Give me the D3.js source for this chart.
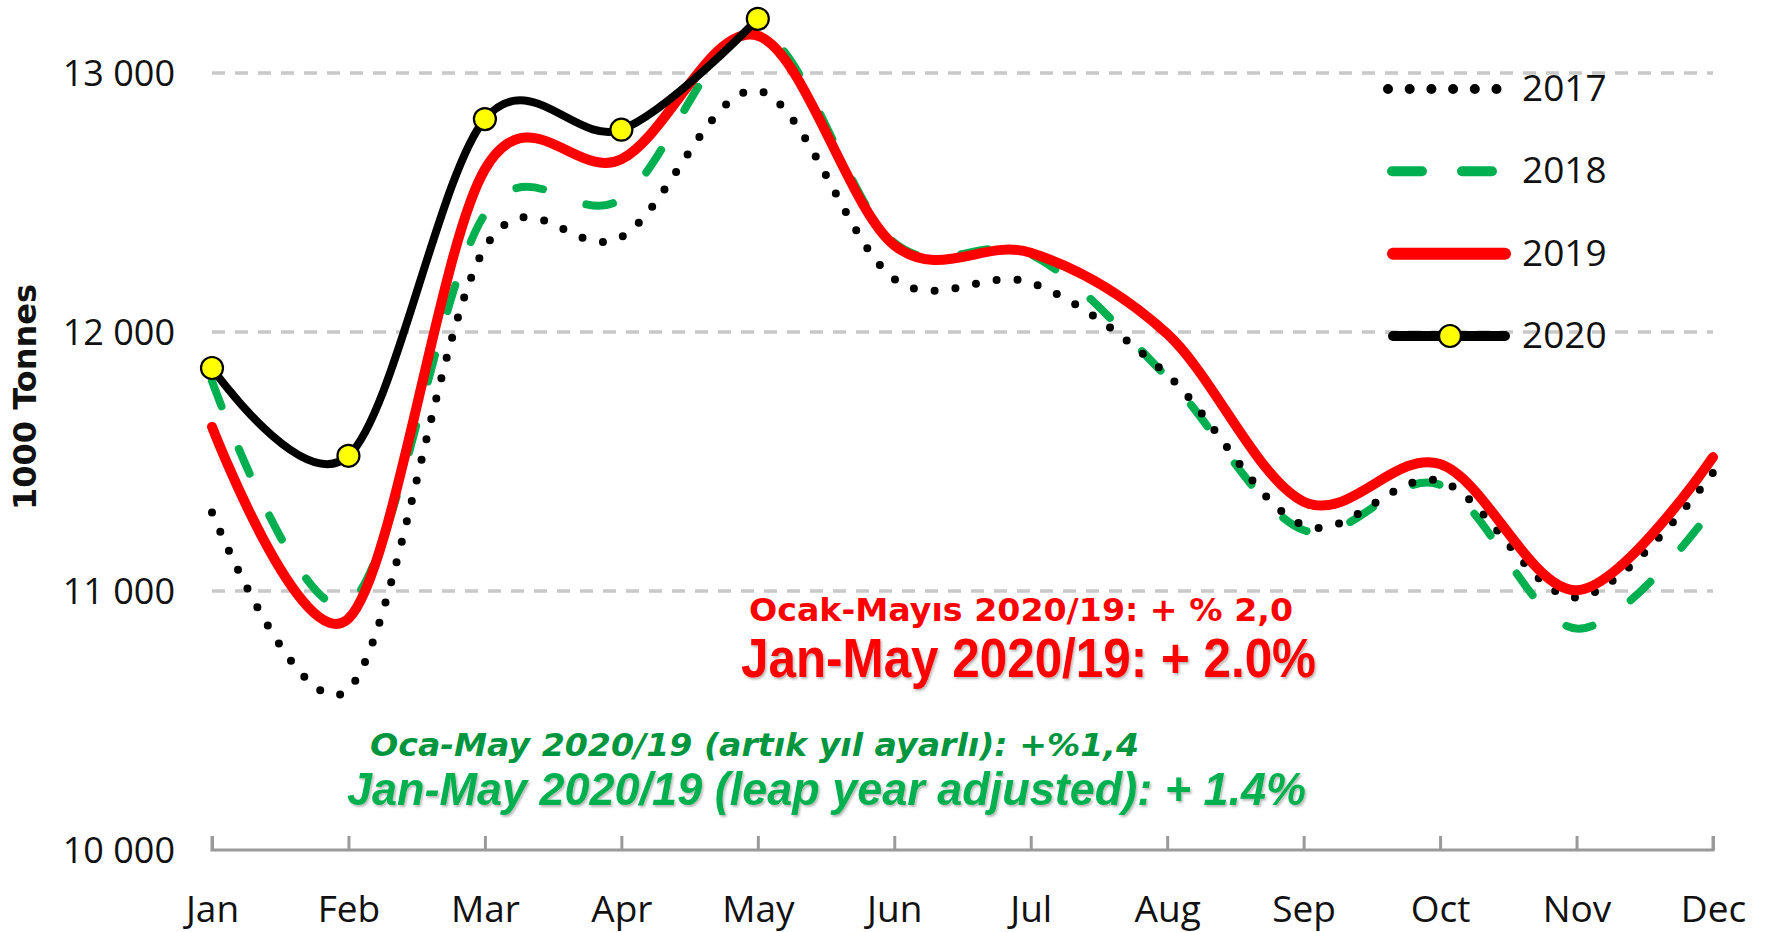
<!DOCTYPE html>
<html>
<head>
<meta charset="utf-8">
<script src="https://cdn.jsdelivr.net/npm/d3@7"></script>
<style>
  html, body { margin: 0; padding: 0; background: #ffffff; }
  svg { display: block; }
</style>
</head>
<body>
<svg id="chart" width="1768" height="932"></svg>
<script>
// ---------------- DATA ----------------
const months = ["Jan","Feb","Mar","Apr","May","Jun","Jul","Aug","Sep","Oct","Nov","Dec"];
const years = ["2017","2018","2019","2020"];
const values2017 = [11303, 10620, 12325, 12366, 12932, 12205, 12190, 11835, 11254, 11425, 10975, 11457];
const values2018 = [11810, 10950, 12455, 12514, 13160, 12345, 12300, 11825, 11235, 11410, 10855, 11320];
const values2019 = [11634, 10893, 12628, 12667, 13144, 12335, 12306, 11993, 11345, 11490, 11003, 11517];
const values2020 = [11861, 11522, 12822, 12781, 13209];
const yTicks = [10000, 11000, 12000, 13000];
const yTitle = "1000 Tonnes";
const noteRedTr = "Ocak-Mayıs 2020/19: + % 2,0";
const noteRedEn = "Jan-May 2020/19: + 2.0%";
const noteGreenTr = "Oca-May 2020/19 (artık yıl ayarlı): +%1,4";
const noteGreenEn = "Jan-May 2020/19 (leap year adjusted):  + 1.4%";

// ---------------- STYLES ----------------
const seriesData = { "2017": values2017, "2018": values2018, "2019": values2019, "2020": values2020 };
const style = {
  "2017": { color: "#000000", width: 8, dash: "0 21", legendWidth: 10, legendDash: "0 21.7" },
  "2018": { color: "#00b050", width: 8, dash: "27 46", legendWidth: 10, legendDash: "30 40" },
  "2019": { color: "#ff0000", width: 10, dash: null, legendWidth: 12, legendDash: null },
  "2020": { color: "#000000", width: 8, dash: null, legendWidth: 10, legendDash: null, marker: true }
};
const drawOrder = ["2018", "2017", "2019", "2020"];

const svg = d3.select("#chart");
const x = d3.scalePoint().domain(months).range([212, 1713]);
const y = d3.scaleLinear().domain([10000, 13000]).range([850, 73]);

const fmt = d3.formatLocale({ decimal: ",", thousands: " ", grouping: [3], currency: ["", ""] }).format(",");

const defs = svg.append("defs");
const sh = defs.append("filter").attr("id", "shadow").attr("x", "-5%").attr("y", "-20%").attr("width", "110%").attr("height", "150%");
sh.append("feDropShadow").attr("dx", 1.5).attr("dy", 2).attr("stdDeviation", 1.2)
  .attr("flood-color", "#000").attr("flood-opacity", 0.28);

// gridlines
svg.append("g").selectAll("line")
  .data(yTicks.filter(d => d > 10000))
  .join("line")
  .attr("x1", x("Jan")).attr("x2", x("Dec"))
  .attr("y1", d => y(d)).attr("y2", d => y(d))
  .attr("stroke", "#c8c8c8").attr("stroke-width", 3.5).attr("stroke-dasharray", "13 10");

// y axis labels
const yAxis = d3.axisLeft(y).tickValues(yTicks).tickFormat(d => fmt(d)).tickSize(0).tickPadding(0);
const gy = svg.append("g").attr("transform", "translate(175,0)").call(yAxis);
gy.select(".domain").remove();
gy.selectAll("text")
  .attr("font-family", "'Open Sans', sans-serif").attr("font-size", 36)
  .attr("fill", "#111").attr("dy", null).attr("y", 12).attr("x", 0)
  .attr("text-anchor", "end");

// x axis
const xAxis = d3.axisBottom(x).tickSize(-14).tickPadding(0);
const gx = svg.append("g").attr("transform", `translate(0,${y(10000)})`).call(xAxis);
gx.select(".domain").attr("stroke", "#9a9a9a").attr("stroke-width", 3)
  .attr("d", `M${x("Jan")},-14V0H${x("Dec")}V-14`);
gx.selectAll(".tick line").attr("stroke", "#9a9a9a").attr("stroke-width", 3);
gx.selectAll(".tick text")
  .attr("font-family", "'Open Sans', sans-serif").attr("font-size", 37)
  .attr("fill", "#111").attr("dy", null).attr("y", 72);

// y title
svg.append("text")
  .attr("transform", "translate(36,397) rotate(-90)")
  .attr("text-anchor", "middle")
  .attr("font-family", "'DejaVu Sans', sans-serif").attr("font-weight", "bold").attr("font-size", 32)
  .attr("fill", "#111").text(yTitle);

// lines
const line = d3.line()
  .x((d, i) => x(months[i]))
  .y(d => y(d))
  .curve(d3.curveCardinal.tension(0));

drawOrder.forEach(k => {
  const s = style[k];
  svg.append("path")
    .datum(seriesData[k])
    .attr("d", line)
    .attr("fill", "none")
    .attr("stroke", s.color)
    .attr("stroke-width", s.width)
    .attr("stroke-linecap", "round")
    .attr("stroke-linejoin", "round")
    .attr("stroke-dasharray", s.dash);
});

svg.append("g").selectAll("circle")
  .data(values2020)
  .join("circle")
  .attr("cx", (d, i) => x(months[i]))
  .attr("cy", d => y(d))
  .attr("r", 11)
  .attr("fill", "#ffff00").attr("stroke", "#000").attr("stroke-width", 2.2);

// legend
const legendY = d3.scalePoint().domain(years).range([89, 336]);
const lg = svg.append("g");
years.forEach(k => {
  const s = style[k];
  const yy = legendY(k);
  let x1 = 1393, x2 = 1505;
  if (k === "2017") { x1 = 1388; x2 = 1497; }
  if (k === "2018") { x1 = 1392; x2 = 1493; }
  lg.append("line")
    .attr("x1", x1).attr("x2", x2).attr("y1", yy).attr("y2", yy)
    .attr("stroke", s.color).attr("stroke-width", s.legendWidth)
    .attr("stroke-linecap", "round")
    .attr("stroke-dasharray", s.legendDash);
  if (s.marker) {
    lg.append("circle").attr("cx", 1450).attr("cy", yy).attr("r", 11)
      .attr("fill", "#ffff00").attr("stroke", "#000").attr("stroke-width", 2.2);
  }
  lg.append("text")
    .attr("x", 1522).attr("y", yy + 12)
    .attr("font-family", "'Open Sans', sans-serif").attr("font-size", 37)
    .attr("fill", "#111").text(k);
});

// annotations
svg.append("text")
  .attr("x", 749).attr("y", 621)
  .attr("font-family", "'DejaVu Sans', sans-serif").attr("font-weight", "bold").attr("font-size", 32)
  .attr("textLength", 544).attr("lengthAdjust", "spacingAndGlyphs")
  .attr("fill", "#ff0000").text(noteRedTr);

svg.append("text")
  .attr("x", 741).attr("y", 677)
  .attr("font-family", "'Liberation Sans', Arial, sans-serif").attr("font-weight", "bold").attr("font-size", 55)
  .attr("textLength", 575).attr("lengthAdjust", "spacingAndGlyphs")
  .attr("filter", "url(#shadow)")
  .attr("fill", "#ff0000").text(noteRedEn);

svg.append("text")
  .attr("x", 370).attr("y", 756)
  .attr("font-family", "'DejaVu Sans', sans-serif").attr("font-weight", "bold").attr("font-style", "italic").attr("font-size", 32)
  .attr("textLength", 769).attr("lengthAdjust", "spacingAndGlyphs")
  .attr("fill", "#009640").text(noteGreenTr);

svg.append("text")
  .attr("x", 347).attr("y", 805)
  .attr("font-family", "'Liberation Sans', Arial, sans-serif").attr("font-weight", "bold").attr("font-style", "italic").attr("font-size", 47)
  .attr("textLength", 959).attr("lengthAdjust", "spacingAndGlyphs")
  .attr("filter", "url(#shadow)")
  .attr("fill", "#00b050").text(noteGreenEn);
</script>
</body>
</html>
